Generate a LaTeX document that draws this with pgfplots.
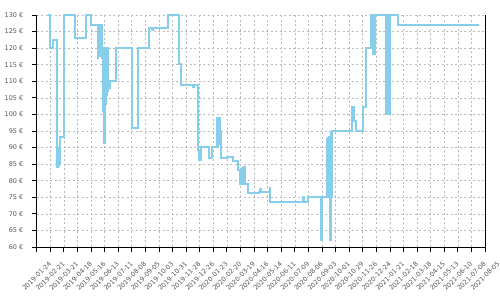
\documentclass[border=0pt]{standalone}
\usepackage{fontspec}
\setmainfont{DejaVu Sans}
\usepackage{pgfplots}
\pgfplotsset{compat=1.18}
\definecolor{lineblue}{HTML}{87CEEB}
\definecolor{lbl}{HTML}{555555}
\definecolor{gridc}{HTML}{BBBBBB}
\begin{document}
\begin{tikzpicture}
\begin{axis}[
  scale only axis,
  width=448.3bp, height=232bp,
  xmin=0, xmax=924, ymin=60, ymax=130,
  clip=false,
  axis lines=left,
  axis line style={black, line width=0.8bp, -},
  xtick={0,28,...,924},
  ytick={60,65,...,130},
  xticklabels={2019-01-24,2019-02-21,2019-03-21,2019-04-18,2019-05-16,2019-06-13,2019-07-11,2019-08-08,2019-09-05,2019-10-03,2019-10-31,2019-11-28,2019-12-26,2020-01-23,2020-02-20,2020-03-19,2020-04-16,2020-05-14,2020-06-11,2020-07-09,2020-08-06,2020-09-03,2020-10-01,2020-10-29,2020-11-26,2020-12-24,2021-01-21,2021-02-18,2021-03-18,2021-04-15,2021-05-13,2021-06-10,2021-07-08,2021-08-05},
  /pgf/number format/assume math mode=true,
  yticklabel={\pgfmathprintnumber{\tick}~€},
  tick label style={font=\fontsize{6.5}{7}\selectfont, text=lbl},
  xticklabel style={yshift=-24bp, rotate=45, anchor=center},
  yticklabel style={xshift=-5bp},
  tick align=outside,
  major tick length=5bp,
  tick style={black, line width=0.8bp},
  grid=major,
  major grid style={gridc, line width=0.6bp, dash pattern=on 2bp off 2.5bp},
]
\addplot[const plot, color=lineblue, line width=2bp] coordinates {
(23,130) (28,120) (33.6,122.5) (42,84.2) (43,90) (44,84.5) (45,89.5) (46,85) (47,88) (48,93.3)
(55.6,130) (79.6,123.2) (101.6,130) (111.9,127.1)
(125.7,117) (126.5,127.1) (127.3,118) (128.1,127.1) (128.9,117.5) (129.7,127.1) (130.5,118) (131.3,127.1) (132.1,117.5) (132.9,127.1) (133.7,118) (134.5,127.1) (135.3,117)
(136,110) (136.6,120) (137.2,101) (137.8,120) (138.4,95) (139,120) (139.6,91.3) (140.2,120) (140.8,100) (141.4,120) (142,103) (142.6,120) (143.2,104) (143.8,120) (144.4,106) (145,119) (145.6,107) (146.2,120) (146.8,108) (147.4,110) (150,108) (152,110)
(163.5,120) (195.8,96) (208.2,120) (231.5,126.2) (237,125.4) (239,126.2) (271.2,130) (293.3,115.1) (296.8,109) (323,108.3) (325,109)
(333,89.3) (334.5,86.2) (338.6,90.3) (355,87) (361,90.3) (372,99) (373,90.5) (374,99) (375,91) (376,99) (377,95) (379.3,86.8) (392,87.3) (404,86) (415.5,83.2) (419,79.1) (424,83.7) (425,79.1) (426,83.7) (427,79.1) (428,84) (429,79.1) (435,76.2)
(458.8,76.7) (461,77.4) (463,76.7) (480,77.8) (481.5,73.7) (549.5,75.2) (551,73.7) (559.8,75.2) (585,62.1) (587,75.2)
(599,92.5) (600,75.2) (601,93) (602,75.2) (603,93.3) (604,75.2) (605,62.1) (607,94.8) (608,75.2) (609,95.1)
(650.5,102.3) (653,98.1) (658,95.1) (672,102.1) (678,120) (688.4,130) (694,118.2) (697,130)
(720,100.1) (721,130) (722,100.1) (723,130) (724,100.1) (725,130) (726,100.1) (727,130) (728,100.1) (728.5,130) (745.3,127) (911,127)
};
\draw[black, line width=0.8bp] (rel axis cs:1,0) -- (rel axis cs:1,1);
\coordinate (bl) at (rel axis cs:0,0);
\coordinate (tr) at (rel axis cs:1,1);
\end{axis}
\pgfresetboundingbox
\path ([shift={(-36.7bp,-53bp)}]bl) rectangle ([shift={(15bp,15bp)}]tr);
\end{tikzpicture}
\end{document}
